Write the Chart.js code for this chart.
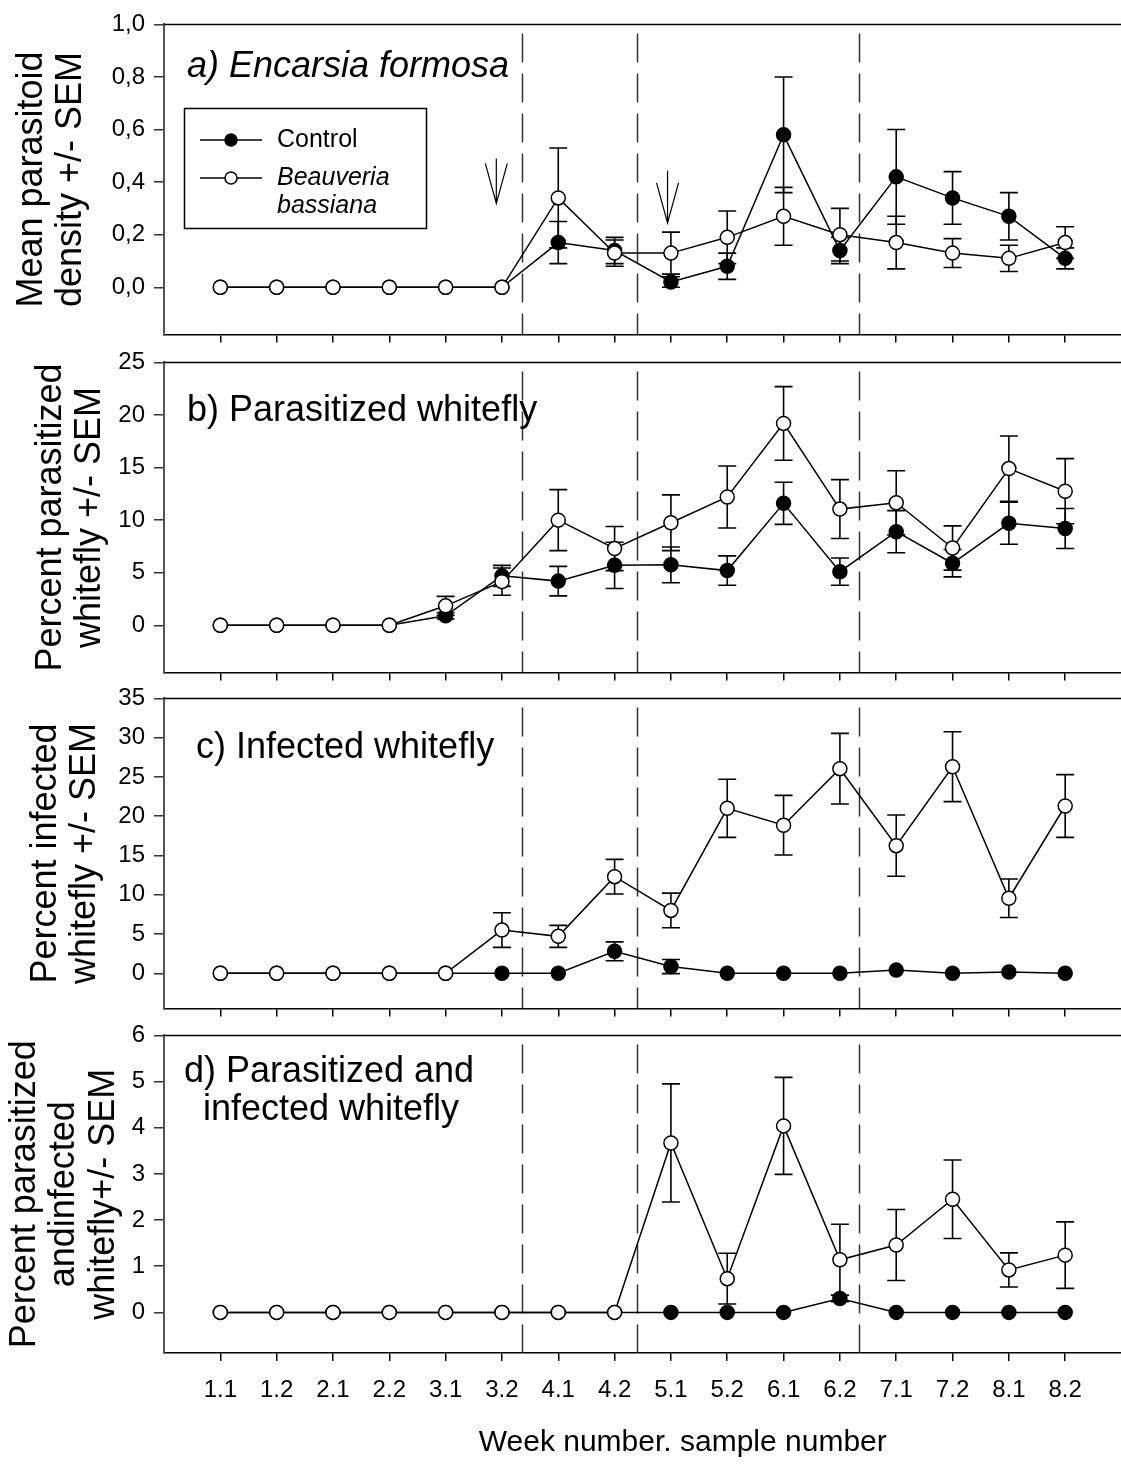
<!DOCTYPE html>
<html>
<head>
<meta charset="utf-8">
<script src="https://cdn.jsdelivr.net/npm/chart.js@4.4.1/dist/chart.umd.min.js"></script>
<style>
  html, body { margin: 0; padding: 0; background: #fff; overflow: hidden; width: 1121px; height: 1464px; }
  .panel { position: absolute; left: 0; width: 1210px; }
  canvas { display: block; }
</style>
</head>
<body>
<div class="panel" id="pa"><canvas id="cA"></canvas></div>
<div class="panel" id="pb"><canvas id="cB"></canvas></div>
<div class="panel" id="pc"><canvas id="cC"></canvas></div>
<div class="panel" id="pd"><canvas id="cD"></canvas></div>
<script>
// week.sample categories shared by all four panels
var weeks = ['1.1','1.2','2.1','2.2','3.1','3.2','4.1','4.2','5.1','5.2','6.1','6.2','7.1','7.2','8.1','8.2'];
// dashed separators (in category index units)
var dividers = [5.355, 7.405, 11.34];

// a) Encarsia formosa density
var ctrlA    = [0,0,0,0,0,0,0.17,0.14,0.02,0.08,0.58,0.14,0.42,0.34,0.27,0.11];
var ctrlErrA = [0,0,0,0,0,0,0.08,0.05,0.02,0.05,0.22,0.05,0.18,0.10,0.09,0.04];
var bbA      = [0,0,0,0,0,0,0.34,0.13,0.13,0.19,0.27,0.20,0.17,0.13,0.11,0.17];
var bbErrA   = [0,0,0,0,0,0,0.19,0.05,0.08,0.10,0.11,0.10,0.10,0.055,0.05,0.06];
var ticksA   = [0, 0.2, 0.4, 0.6, 0.8, 1.0];

// b) parasitized whitefly
var ctrlB    = [0,0,0,0,0.9,4.7,4.2,5.7,5.75,5.2,11.6,5.1,8.9,5.9,9.7,9.2];
var ctrlErrB = [0,0,0,0,0.3,1.0,1.4,2.2,1.7,1.4,2.0,1.3,2.0,1.3,2.0,1.9];
var bbB      = [0,0,0,0,1.85,4.15,10.0,7.3,9.75,12.2,19.2,11.05,11.65,7.35,14.9,12.75];
var bbErrB   = [0,0,0,0,0.9,1.3,2.9,2.1,2.65,2.95,3.5,2.8,3.05,2.1,3.1,3.1];
var ticksB   = [0, 5, 10, 15, 20, 25];

// c) infected whitefly
var ctrlC    = [0,0,0,0,0,0,0,2.8,0.85,0,0,0,0.4,0,0.15,0];
var ctrlErrC = [0,0,0,0,0,0,0,1.2,0.9,0,0,0,0,0,0,0];
var bbC      = [0,0,0,0,0,5.5,4.7,12.3,8.0,21.0,18.85,26.05,16.25,26.3,9.55,21.3];
var bbErrC   = [0,0,0,0,0,2.2,1.4,2.2,2.2,3.7,3.8,4.5,3.9,4.45,2.45,4.0];
var ticksC   = [0, 5, 10, 15, 20, 25, 30, 35];

// d) parasitized and infected whitefly
var ctrlD    = [0,0,0,0,0,0,0,0,0,0,0,0.3,0,0,0,0];
var ctrlErrD = [0,0,0,0,0,0,0,0,0,0,0,0.07,0,0,0,0];
var bbD      = [0,0,0,0,0,0,0,0,3.67,0.73,4.04,1.14,1.46,2.45,0.92,1.24];
var bbErrD   = [0,0,0,0,0,0,0,0,1.28,0.55,1.05,0.77,0.77,0.85,0.37,0.72];
var ticksD   = [0, 1, 2, 3, 4, 5, 6];

// application arrows in panel a (x in category units, y in data units)
var arrowX   = [4.9, 7.94];
var arrowTop = [0.49, 0.443];
var arrowTip = [0.319, 0.245];

var FONT = "'Liberation Sans', Arial, sans-serif";
var PAD_TOP = 20;
var TICK_SIZE = 24;

var panels = [
  { id: 'cA', top: 21, bottom: 343, min: -0.18, max: 1.0, ticks: ticksA, comma: true,
    ctrl: ctrlA, ctrlErr: ctrlErrA, bb: bbA, bbErr: bbErrA,
    yTitle: ['Mean parasitoid', 'density +/- SEM'], titlePad: 12 },
  { id: 'cB', top: 359, bottom: 681, min: -4.5, max: 25, ticks: ticksB,
    ctrl: ctrlB, ctrlErr: ctrlErrB, bb: bbB, bbErr: bbErrB,
    yTitle: ['Percent parasitized', 'whitefly +/- SEM'], titlePad: 31 },
  { id: 'cC', top: 695, bottom: 1017, min: -4.5, max: 35, ticks: ticksC,
    ctrl: ctrlC, ctrlErr: ctrlErrC, bb: bbC, bbErr: bbErrC,
    yTitle: ['Percent infected', 'whitefly +/- SEM'], titlePad: 26 },
  { id: 'cD', top: 1032, bottom: 1353, min: -0.88, max: 6, ticks: ticksD, last: true,
    ctrl: ctrlD, ctrlErr: ctrlErrD, bb: bbD, bbErr: bbErrD,
    yTitle: ['Percent parasitized', 'andinfected', 'whitefly+/- SEM'], titlePad: 5 }
];

function toPoints(arr) {
  return arr.map(function(v, i) { return {x: i, y: v}; });
}

// text, legend, arrows, error bars, separators
function decoPlugin(p, idx) {
  return {
    id: 'deco',
    beforeDatasetsDraw: function(chart) {
      var ctx = chart.ctx, a = chart.chartArea, x = chart.scales.x, y = chart.scales.y;
      ctx.save();
      ctx.strokeStyle = '#000';
      ctx.lineWidth = 1.5;
      ctx.beginPath(); ctx.moveTo(a.left, a.top); ctx.lineTo(a.right, a.top); ctx.stroke();

      ctx.strokeStyle = '#333';
      ctx.setLineDash([29, 11]);
      dividers.forEach(function(d) {
        var px = Math.round(x.getPixelForValue(d)) + 0.5;
        ctx.beginPath(); ctx.moveTo(px, a.top + 9); ctx.lineTo(px, a.bottom); ctx.stroke();
      });
      ctx.setLineDash([]);

      ctx.strokeStyle = '#000';
      ctx.lineWidth = 1.6;
      chart.data.datasets.forEach(function(ds) {
        ds.data.forEach(function(pt, i) {
          var e = ds.err[i];
          if (!e) return;
          var px = x.getPixelForValue(pt.x);
          var y1 = y.getPixelForValue(pt.y + e), y2 = y.getPixelForValue(pt.y - e);
          ctx.beginPath();
          ctx.moveTo(px, y1); ctx.lineTo(px, y2);
          ctx.moveTo(px - 9, y1); ctx.lineTo(px + 9, y1);
          ctx.moveTo(px - 9, y2); ctx.lineTo(px + 9, y2);
          ctx.stroke();
        });
      });
      ctx.restore();
    },
    afterDraw: function(chart) {
      var ctx = chart.ctx, x = chart.scales.x, y = chart.scales.y;
      var off = p.top - PAD_TOP;
      ctx.save();
      ctx.fillStyle = '#000';
      ctx.textBaseline = 'alphabetic';
      if (idx === 0) {
        ctx.font = 'italic 36px ' + FONT;
        ctx.fillText('a) Encarsia formosa', 187, 77 - off);

        // legend box
        ctx.strokeStyle = '#000';
        ctx.lineWidth = 1.5;
        ctx.strokeRect(184.5, 108.5 - off, 242, 120);
        var rows = [{y: 140, fill: '#000', text: 'Control', italic: false},
                    {y: 178, fill: '#fff', text: 'Beauveria', italic: true}];
        rows.forEach(function(r) {
          var yy = r.y - off;
          ctx.beginPath(); ctx.moveTo(200, yy); ctx.lineTo(262, yy); ctx.stroke();
          ctx.beginPath(); ctx.arc(231, yy, 6, 0, Math.PI * 2);
          ctx.fillStyle = r.fill; ctx.fill(); ctx.stroke();
          ctx.fillStyle = '#000';
          ctx.font = (r.italic ? 'italic ' : '') + '25px ' + FONT;
          ctx.textBaseline = 'middle';
          ctx.fillText(r.text, 277, yy);
        });
        ctx.font = 'italic 25px ' + FONT;
        ctx.fillText('bassiana', 277, 206 - off);

        // arrows
        ctx.lineWidth = 1.2;
        arrowX.forEach(function(ax, i) {
          var px = x.getPixelForValue(ax);
          var t = y.getPixelForValue(arrowTop[i]), tip = y.getPixelForValue(arrowTip[i]);
          ctx.beginPath();
          ctx.moveTo(px, t); ctx.lineTo(px, tip);
          ctx.moveTo(px - 11, tip - 40); ctx.lineTo(px, tip); ctx.lineTo(px + 11, tip - 40);
          ctx.stroke();
        });
      } else if (idx === 1) {
        ctx.font = '36px ' + FONT;
        ctx.fillText('b) Parasitized whitefly', 187, 421 - off);
      } else if (idx === 2) {
        ctx.font = '36px ' + FONT;
        ctx.fillText('c) Infected whitefly', 196, 758 - off);
      } else {
        ctx.font = '36px ' + FONT;
        ctx.textAlign = 'center';
        ctx.fillText('d) Parasitized and', 329, 1082 - off);
        ctx.fillText('infected whitefly', 331, 1120 - off);
      }
      ctx.restore();
    }
  };
}

function makePanel(p, idx) {
  var xH = p.last ? 1464 - p.bottom : 15;
  var canvas = document.getElementById(p.id);
  canvas.width = 1210;
  canvas.height = PAD_TOP + (p.bottom - p.top) + xH;
  canvas.parentNode.style.top = (p.top - PAD_TOP) + 'px';

  var pointStyle = {
    borderColor: '#000', borderWidth: 1.5, pointRadius: 7, pointHoverRadius: 7,
    pointBorderColor: '#000', pointBorderWidth: 1.5, fill: false, tension: 0
  };

  new Chart(canvas, {
    type: 'line',
    data: {
      datasets: [
        Object.assign({ label: 'Beauveria bassiana', data: toPoints(p.bb), err: p.bbErr,
          pointBackgroundColor: '#fff', backgroundColor: '#fff' }, pointStyle),
        Object.assign({ label: 'Control', data: toPoints(p.ctrl), err: p.ctrlErr,
          pointBackgroundColor: '#000', backgroundColor: '#000' }, pointStyle)
      ]
    },
    options: {
      responsive: false,
      animation: false,
      devicePixelRatio: 1,
      layout: { padding: { top: PAD_TOP, left: 0, right: 0, bottom: 0 } },
      plugins: { legend: { display: false }, tooltip: { enabled: false } },
      scales: {
        x: {
          type: 'linear', min: -1, max: 17.42,
          afterBuildTicks: function(s) { s.ticks = weeks.map(function(w, i) { return {value: i}; }); },
          afterFit: function(s) { s.height = xH; },
          grid: { drawOnChartArea: false, drawTicks: true, tickLength: 8, color: '#000', lineWidth: 1.5 },
          border: { display: true, color: '#000', width: 1.5 },
          ticks: { display: !!p.last, padding: 15, autoSkip: false, maxRotation: 0, color: '#000',
            font: { family: FONT, size: TICK_SIZE },
            callback: function(v) { return weeks[v]; } },
          title: { display: !!p.last, text: 'Week number. sample number', color: '#000',
            font: { family: FONT, size: 30 }, padding: { top: 0, bottom: 3 } }
        },
        y: {
          min: p.min, max: p.max,
          afterBuildTicks: function(s) { s.ticks = p.ticks.map(function(v) { return {value: v}; }); },
          afterFit: function(s) { s.width = 164; },
          grid: { drawOnChartArea: false, drawTicks: true, tickLength: 10, color: '#333', lineWidth: 1.5 },
          border: { display: true, color: '#555', width: 2 },
          ticks: { padding: 9, color: '#000', font: { family: FONT, size: TICK_SIZE },
            callback: function(v) { return p.comma ? v.toFixed(1).replace('.', ',') : String(v); } },
          title: { display: true, text: p.yTitle, color: '#000',
            font: { family: FONT, size: 36, lineHeight: 1.1 }, padding: { top: p.titlePad, bottom: 0 } }
        }
      }
    },
    plugins: [decoPlugin(p, idx)]
  });
}

panels.forEach(makePanel);
</script>
</body>
</html>
